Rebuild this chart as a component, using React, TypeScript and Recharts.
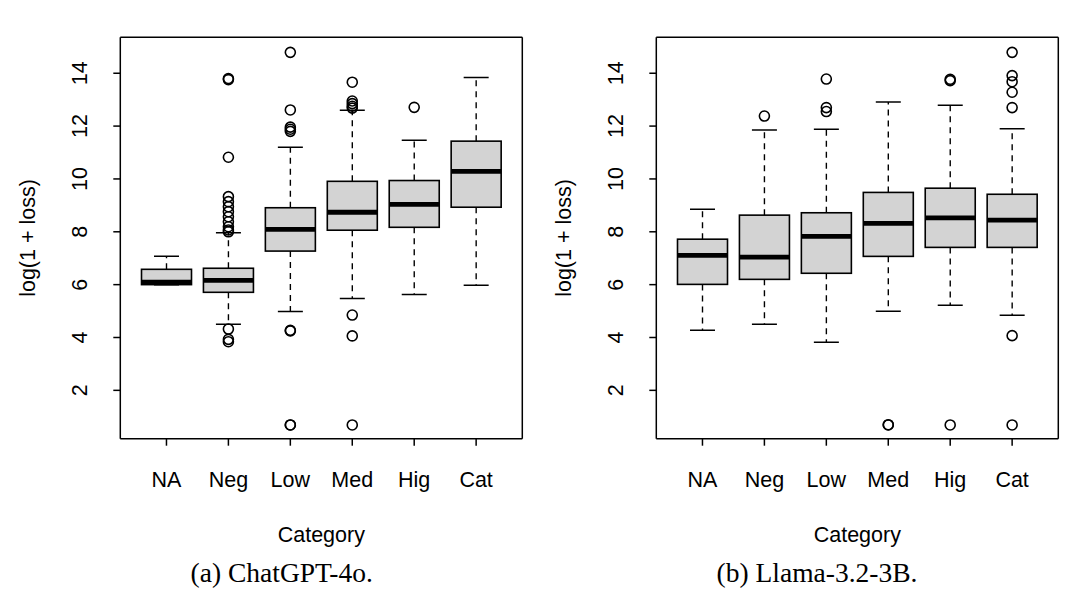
import { Bar, CartesianGrid, ComposedChart, Label, Scatter, XAxis, YAxis } from "recharts";

const CATS = ["NA", "Neg", "Low", "Med", "Hig", "Cat"];
const Y_TICKS = [2, 4, 6, 8, 10, 12, 14];
const Y_DOMAIN: [number, number] = [0.17, 15.36];

// (a) ChatGPT-4o
const gptLo = [6.0, 4.5, 4.98, 5.48, 5.63, 5.98];
const gptQ1 = [6.0, 5.71, 7.27, 8.06, 8.17, 8.93];
const gptMed = [6.09, 6.16, 8.09, 8.74, 9.04, 10.29];
const gptQ3 = [6.58, 6.62, 8.91, 9.91, 9.94, 11.43];
const gptHi = [7.07, 7.96, 11.2, 12.6, 11.46, 13.84];
const gptOutliers: [string, number][] = [
  ["Neg", 13.76], ["Neg", 13.8], ["Neg", 10.82], ["Neg", 9.33], ["Neg", 9.14],
  ["Neg", 8.95], ["Neg", 8.76], ["Neg", 8.57], ["Neg", 8.38], ["Neg", 8.19],
  ["Neg", 8.07], ["Neg", 8.0], ["Neg", 4.32], ["Neg", 3.93], ["Neg", 3.84],
  ["Low", 14.79], ["Low", 12.61], ["Low", 11.96], ["Low", 11.88], ["Low", 11.8],
  ["Low", 4.27], ["Low", 4.25], ["Low", 0.69], ["Low", 0.69],
  ["Med", 13.66], ["Med", 12.95], ["Med", 12.85], ["Med", 12.75], ["Med", 12.68],
  ["Med", 4.85], ["Med", 4.06], ["Med", 0.69],
  ["Hig", 12.71],
];

// (b) Llama-3.2-3B
const llamaLo = [4.27, 4.5, 3.82, 4.99, 5.22, 4.84];
const llamaQ1 = [6.01, 6.2, 6.43, 7.07, 7.41, 7.41];
const llamaMed = [7.11, 7.04, 7.83, 8.32, 8.53, 8.44];
const llamaQ3 = [7.72, 8.63, 8.72, 9.49, 9.65, 9.42];
const llamaHi = [8.85, 11.85, 11.88, 12.91, 12.79, 11.9];
const llamaOutliers: [string, number][] = [
  ["Neg", 12.38],
  ["Low", 13.78], ["Low", 12.7], ["Low", 12.55],
  ["Med", 0.69], ["Med", 0.7],
  ["Hig", 13.72], ["Hig", 13.77], ["Hig", 0.69],
  ["Cat", 14.79], ["Cat", 13.91], ["Cat", 13.68], ["Cat", 13.28], ["Cat", 12.7],
  ["Cat", 4.07], ["Cat", 0.69],
];

const SANS = "'Liberation Sans', Arial, Helvetica, sans-serif";
const SERIF = "'Liberation Serif', 'Times New Roman', serif";
const FS = 21.5;

function BoxShape(props: any) {
  const { x, y, width, height, payload } = props;
  const { lo, q1, med, q3, hi } = payload;
  const k = height / (hi - lo);
  const py = (v: number) => y + (hi - v) * k;
  const cx = x + width / 2;
  const cap = width / 4;
  return (
    <g stroke="#000" fill="none">
      <line x1={cx} x2={cx} y1={py(q3)} y2={py(hi)} strokeWidth={1.4} strokeDasharray="6 5" />
      <line x1={cx} x2={cx} y1={py(q1)} y2={py(lo)} strokeWidth={1.4} strokeDasharray="6 5" />
      <line x1={cx - cap} x2={cx + cap} y1={py(hi)} y2={py(hi)} strokeWidth={1.5} />
      <line x1={cx - cap} x2={cx + cap} y1={py(lo)} y2={py(lo)} strokeWidth={1.5} />
      <rect x={x} y={py(q3)} width={width} height={py(q1) - py(q3)} fill="#d3d3d3" strokeWidth={1.6} />
      <line x1={x} x2={x + width} y1={py(med)} y2={py(med)} strokeWidth={4.8} />
    </g>
  );
}

const Dot = (p: any) => (
  <circle cx={p.cx} cy={p.cy} r={5} fill="none" stroke="#000" strokeWidth={1.6} />
);

const YTick = ({ x, y, payload }: any) => (
  <text x={x - 26} y={y} transform={`rotate(-90 ${x - 26} ${y})`} textAnchor="middle"
    fontSize={FS} fontFamily={SANS} fill="#000">
    {payload.value}
  </text>
);

const XTick = ({ x, y, payload }: any) => (
  <text x={x} y={y + 41.6} textAnchor="middle" fontSize={FS} fontFamily={SANS} fill="#000">
    {payload.value}
  </text>
);

// frame around the plot region, like R's box()
const frameH = ({ offset }: any) => [offset.top, offset.top + offset.height];
const frameV = ({ offset }: any) => [offset.left, offset.left + offset.width];

function BoxPanel(props: {
  lo: number[]; q1: number[]; med: number[]; q3: number[]; hi: number[];
  outliers: [string, number][];
}) {
  const rows = CATS.map((cat, i) => ({
    cat,
    box: [props.lo[i], props.hi[i]],
    lo: props.lo[i], q1: props.q1[i], med: props.med[i], q3: props.q3[i], hi: props.hi[i],
  }));
  const pts = props.outliers.map(([cat, v]) => ({ cat, v }));
  return (
    <ComposedChart width={543} height={560} data={rows}
      margin={{ top: 37.3, right: 20.7, bottom: 11.3, left: 20.3 }}>
      <CartesianGrid stroke="#000" strokeWidth={1.5} fill="none"
        horizontalCoordinatesGenerator={frameH} verticalCoordinatesGenerator={frameV} />
      <XAxis dataKey="cat" type="category" allowDuplicatedCategory={false} interval={0}
        padding={{ left: 15.2, right: 15.2 }} axisLine={false} tickSize={7} tickMargin={0}
        tickLine={{ stroke: "#000", strokeWidth: 1.5 }} tick={<XTick />} height={110}>
        <Label content={({ viewBox }: any) => (
          <text x={viewBox.x + viewBox.width / 2} y={viewBox.y + 103} textAnchor="middle"
            fontSize={FS} fontFamily={SANS} fill="#000">Category</text>
        )} />
      </XAxis>
      <YAxis type="number" domain={Y_DOMAIN} ticks={Y_TICKS} allowDataOverflow width={100}
        axisLine={false} tickSize={7} tickMargin={0}
        tickLine={{ stroke: "#000", strokeWidth: 1.5 }} tick={<YTick />}>
        <Label content={({ viewBox }: any) => {
          const tx = viewBox.x + 14.5;
          const ty = viewBox.y + viewBox.height / 2;
          return (
            <text x={tx} y={ty} transform={`rotate(-90 ${tx} ${ty})`} textAnchor="middle"
              fontSize={FS} fontFamily={SANS} fill="#000">log(1 + loss)</text>
          );
        }} />
      </YAxis>
      <Bar dataKey="box" barSize={50} shape={<BoxShape />} isAnimationActive={false} />
      <Scatter data={pts} dataKey="v" shape={<Dot />} isAnimationActive={false} />
    </ComposedChart>
  );
}

export default function App() {
  return (
    <div style={{ position: "absolute", left: 0, top: 0, width: 1086, height: 600, background: "#fff" }}>
      <div style={{ position: "absolute", left: 0, top: 0 }}>
        <BoxPanel lo={gptLo} q1={gptQ1} med={gptMed} q3={gptQ3} hi={gptHi} outliers={gptOutliers} />
      </div>
      <div style={{ position: "absolute", left: 536, top: 0 }}>
        <BoxPanel lo={llamaLo} q1={llamaQ1} med={llamaMed} q3={llamaQ3} hi={llamaHi} outliers={llamaOutliers} />
      </div>
      <svg width={1086} height={600} style={{ position: "absolute", left: 0, top: 0, pointerEvents: "none" }}>
        <text x={281.7} y={582} textAnchor="middle" fontSize={27.5} fontFamily={SERIF} fill="#000">
          (a) ChatGPT-4o.
        </text>
        <text x={817} y={582} textAnchor="middle" fontSize={27.5} fontFamily={SERIF} fill="#000">
          (b) Llama-3.2-3B.
        </text>
      </svg>
    </div>
  );
}
